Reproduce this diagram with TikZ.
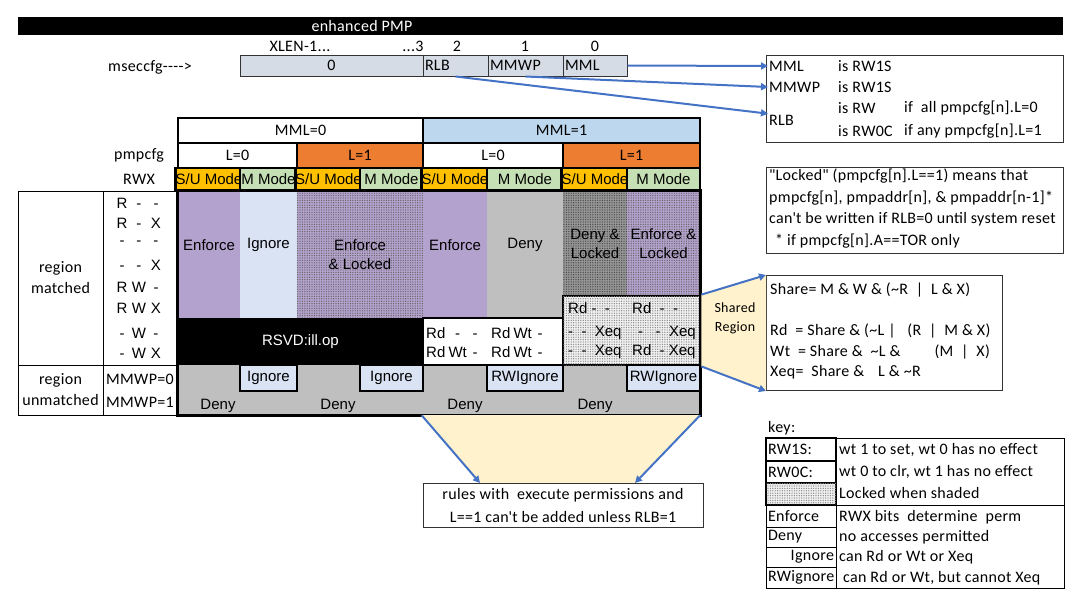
\documentclass[tikz,border=0pt]{standalone}
\usepackage{fontspec}
\setmainfont{Carlito}[LetterSpace=2]
\newfontfamily\arialf{Liberation Sans}
\usetikzlibrary{arrows.meta,positioning,patterns.meta}
\definecolor{purp}{RGB}{180,162,206}
\definecolor{lav}{RGB}{218,227,243}
\definecolor{gry}{RGB}{191,191,191}
\definecolor{dgry}{RGB}{150,150,150}
\definecolor{org}{RGB}{237,125,49}
\definecolor{ylw}{RGB}{255,192,0}
\definecolor{grn}{RGB}{197,224,180}
\definecolor{lblue}{RGB}{189,215,238}
\definecolor{regc}{RGB}{214,220,229}
\definecolor{callc}{RGB}{255,242,204}
\definecolor{arrc}{RGB}{68,114,196}
\newcommand\rwxc[3]{\makebox[17pt]{#1}\makebox[17pt]{#2}\makebox[17pt]{#3}}
\newcommand\permc[3]{\makebox[20pt][l]{#1}\makebox[23pt]{#2}\makebox[12pt]{#3}}

\begin{document}
\begin{tikzpicture}[x=1pt,y=-1pt]
\tikzset{hdr/.style={draw=black, line width=2.8pt, inner sep=0pt, font=\fontsize{16}{18}\selectfont}}
\tikzset{mode/.style={hdr, font=\arialf\fontsize{15}{17}\selectfont}}
\tikzset{body/.style={inner sep=0pt, font=\arialf\fontsize{15}{19}\selectfont, align=center}}
\tikzset{locked/.style={postaction={pattern={Dots[distance=2.4pt,radius=0.7pt]}, pattern color=#1}}}
\tikzset{tab/.style={font=\arialf\fontsize{15}{17}\selectfont, inner sep=1pt}}
\tikzset{txt/.style={font=\fontsize{16}{21}\selectfont, inner sep=1pt}}
\tikzset{note/.style={draw=black!80, line width=1pt, inner sep=0pt}}
\tikzset{keyc/.style={draw=black, line width=1pt, minimum width=70, text width=66, inner sep=2pt, align=left, font=\fontsize{16}{18}\selectfont}}
\tikzset{arr/.style={draw=arrc, line width=2pt, -{Triangle[length=7pt,width=7pt]}}}
\useasboundingbox (0,0) rectangle (1083,606);

% title and mseccfg register
\node[fill=black, minimum width=1045, minimum height=18, inner sep=0pt] (bar) at (540.5,26) {};
\node[txt, text=white] (title) at (362,26) {enhanced PMP};
\node[txt] (bxlen) at (300,46) {XLEN-1...};
\node[txt] (b3) at (413,46) {...3};
\node[txt] (b2) at (457,46) {2};
\node[txt] (b1) at (525,46) {1};
\node[txt] (b0) at (595,46) {0};
\node[txt] (msec) at (150,67) {mseccfg-{}-{}-{}->};
\node[note, fill=regc, minimum width=183, minimum height=21, font=\fontsize{16}{18}\selectfont] (f0) at (331.5,65.5) {0};
\node[note, fill=regc, minimum width=65, minimum height=21, text width=61, align=left, font=\fontsize{16}{18}\selectfont] (rlbf) at (455.5,65.5) {RLB};
\node[note, fill=regc, minimum width=75, minimum height=21, text width=71, align=left, font=\fontsize{16}{18}\selectfont] (mmwpf) at (525.5,65.5) {MMWP};
\node[note, fill=regc, minimum width=64, minimum height=21, text width=60, align=left, font=\fontsize{16}{18}\selectfont] (mmlf) at (595,65.5) {MML};

% register description
\node[note, anchor=north west, minimum width=297, minimum height=87] (regbox) at (766,55) {};
\node[txt, anchor=west] (kmml) at (768,66) {MML};
\node[txt, anchor=west] (kmml2) at (837,66) {is RW1S};
\node[txt, anchor=west] (kmmwp) at (768,87) {MMWP};
\node[txt, anchor=west] (kmmwp2) at (837,87) {is RW1S};
\node[txt, anchor=west] (krlb) at (768,120) {RLB};
\node[txt, anchor=west] (krlb2) at (837,108) {is RW};
\node[txt, anchor=west] (krlb3) at (903,108) {if~ all pmpcfg[n].L=0};
\node[txt, anchor=west] (krlb4) at (837,131) {is RW0C};
\node[txt, anchor=west] (krlb5) at (903,131) {if any pmpcfg[n].L=1};
\draw[arr] (mmlf.east) -- (kmml.west);
\draw[arr] (mmwpf.south) -- (kmmwp.west);
\draw[arr] (rlbf.south) -- (krlb.north west);

\node[note, anchor=north west, minimum width=297, minimum height=86] (lockbox) at (766,167) {};
\node[txt, anchor=north west, align=left, font=\fontsize{16}{21.5}\selectfont] (locktxt) at (768,168) {\textquotedbl Locked\textquotedbl\ (pmpcfg[n].L==1) means that\\pmpcfg[n], pmpaddr[n], \& pmpaddr[n-1]*\\can\textquotesingle t be written if RLB=0 until system reset\\\hspace*{6pt}* if pmpcfg[n].A==TOR only};

% left labels
\node[txt] (pmpl) at (139,155) {pmpcfg};
\node[txt] (rwxl) at (139,179) {RWX};
\node[txt, draw, line width=1pt, minimum width=85, minimum height=174, align=center] (regm) at (60.5,278) {region\\matched};
\node[txt, draw, line width=1pt, minimum width=85, minimum height=50, align=center] (regu) at (60.5,390) {region\\unmatched};
\node[draw, line width=1pt, minimum width=75, minimum height=174] (rwxcol) at (140.5,278) {};
\node[draw, line width=1pt, minimum width=75, minimum height=50] (mmwpcol) at (140.5,390) {};
\node[tab] (p1) at (139,203) {\rwxc{R}{-}{-}};
\node[tab] (p2) at (139,223) {\rwxc{R}{-}{X}};
\node[tab] (p3) at (139,243) {\rwxc{-}{-}{-}};
\node[tab] (p4) at (139,265) {\rwxc{-}{-}{X}};
\node[tab] (p5) at (139,287) {\rwxc{R}{W}{-}};
\node[tab] (p6) at (139,308) {\rwxc{R}{W}{X}};
\node[tab] (p7) at (139,333) {\rwxc{-}{W}{-}};
\node[tab] (p8) at (139,353) {\rwxc{-}{W}{X}};
\node[txt] (mw0) at (140,379) {MMWP=0};
\node[txt] (mw1) at (140,402) {MMWP=1};

% table body
\node[body, fill=purp, minimum width=62, minimum height=127, label={[body,yshift=9.5pt]center:Enforce}] (enf1) at (209,254.5) {};
\node[body, fill=lav, minimum width=57, minimum height=127, label={[body,yshift=9.5pt]center:Ignore}] (ign1) at (268.5,254.5) {};
\node[body, fill=purp, locked=black!60, minimum width=126, minimum height=127, label={[body]center:Enforce\\\& Locked}] (enl1) at (360,254.5) {};
\node[body, fill=purp, minimum width=64, minimum height=127, label={[body,yshift=9.5pt]center:Enforce}] (enf2) at (455,254.5) {};
\node[body, fill=gry, minimum width=76, minimum height=127, label={[body,yshift=9.5pt]center:Deny}] (deny1) at (525,254.5) {};
\node[body, fill=dgry, locked=black!70, minimum width=64, minimum height=105, label={[body]center:Deny \&\\Locked}] (dnl) at (595,243.5) {};
\node[body, fill=purp, locked=black!60, minimum width=73, minimum height=105, label={[body]center:Enforce \&\\Locked}] (enl2) at (663.5,243.5) {};
\node[body, fill=black, text=white, minimum width=245, minimum height=47] (rsvd) at (300.5,341.5) {RSVD:ill.op};
\node[body, fill=gry, minimum width=522, minimum height=50] (unm) at (439,390) {};
\node[body, fill=white, draw=black, line width=2.8pt, minimum width=140, minimum height=47] (wbox) at (493,341.5) {};
\node[body, fill=gray!12, locked=black!45, draw=black, line width=2.8pt, minimum width=137, minimum height=69] (shr) at (631.5,330.5) {};

\node[tab, anchor=west] (w11) at (425,333) {\permc{Rd}{-}{-}};
\node[tab, anchor=west] (w12) at (490,333) {\permc{Rd}{Wt}{-}};
\node[tab, anchor=west] (w21) at (425,352) {\permc{Rd}{Wt}{-}};
\node[tab, anchor=west] (w22) at (490,352) {\permc{Rd}{Wt}{-}};
\node[tab, anchor=west] (s11) at (567,308) {Rd\ -\ \ -};
\node[tab, anchor=west] (s12) at (631,308) {Rd\ \ -\ \ -};
\node[tab, anchor=west] (s21) at (567,333) {-~~-~~Xeq};
\node[tab, anchor=west] (s22) at (637,333) {-~~~-~~Xeq};
\node[tab, anchor=west] (s31) at (567,352) {-~~-~~Xeq};
\node[tab, anchor=west] (s32) at (631,352) {Rd~~-~Xeq};

\node[body, fill=lav, draw=black, line width=2.8pt, minimum width=57, minimum height=26] (ig2) at (268.5,378) {Ignore};
\node[body, fill=lav, draw=black, line width=2.8pt, minimum width=63, minimum height=26] (ig3) at (391.5,378) {Ignore};
\node[body, fill=lav, draw=black, line width=2.8pt, minimum width=76, minimum height=26] (rwi1) at (525,378) {RWIgnore};
\node[body, fill=lav, draw=black, line width=2.8pt, minimum width=73, minimum height=26] (rwi2) at (663.5,378) {RWIgnore};
\node[body] (dn1) at (218,406) {Deny};
\node[body] (dn2) at (338,406) {Deny};
\node[body] (dn3) at (465,406) {Deny};
\node[body] (dn4) at (595,406) {Deny};

% header rows
\node[hdr, fill=white, minimum width=245, minimum height=25] (mml0) at (300.5,130.5) {MML=0};
\node[hdr, fill=lblue, minimum width=277, minimum height=25] (mml1) at (561.5,130.5) {MML=1};
\node[hdr, fill=white, minimum width=119, minimum height=25] (l0a) at (237.5,155.5) {L=0};
\node[hdr, fill=org, minimum width=126, minimum height=25] (l1a) at (360,155.5) {L=1};
\node[hdr, fill=white, minimum width=140, minimum height=25] (l0b) at (493,155.5) {L=0};
\node[hdr, fill=org, minimum width=137, minimum height=25] (l1b) at (631.5,155.5) {L=1};
\node[mode, fill=ylw, minimum width=62, minimum height=23] (su1) at (209,179.5) {S/U Mode};
\node[mode, fill=grn, minimum width=57, minimum height=23] (m1) at (268.5,179.5) {M Mode};
\node[mode, fill=ylw, minimum width=63, minimum height=23] (su2) at (328.5,179.5) {S/U Mode};
\node[mode, fill=grn, minimum width=63, minimum height=23] (m2) at (391.5,179.5) {M Mode};
\node[mode, fill=ylw, minimum width=64, minimum height=23] (su3) at (455,179.5) {S/U Mode};
\node[mode, fill=grn, minimum width=76, minimum height=23] (m3) at (525,179.5) {M Mode};
\node[mode, fill=ylw, minimum width=64, minimum height=23] (su4) at (595,179.5) {S/U Mode};
\node[mode, fill=grn, minimum width=73, minimum height=23] (m4) at (663.5,179.5) {M Mode};
\draw[line width=2.8pt] (enf1.north west) rectangle (unm.south east);

% shared region callout
\node[note, anchor=north west, minimum width=236, minimum height=115] (sharebox) at (766,275) {};
\fill[callc] (shr.north east) -- (sharebox.north west) -- (sharebox.south west) -- (shr.south east) -- cycle;
\draw[arr] (shr.north east) -- (sharebox.north west);
\draw[arr] (shr.south east) -- (sharebox.south west);
\node[txt, align=center, font=\fontsize{14}{19}\selectfont] (shtxt) at (735,318.5) {Shared\\Region};
\node[txt, anchor=north west, align=left, font=\fontsize{16}{20.5}\selectfont] (sharetxt) at (769,282) {Share= M \& W \& (\textasciitilde R~ |~ L \& X)\\[20.5pt]Rd~ = Share \& (\textasciitilde L |~~ (R~ |~ M \& X)\\Wt~ = Share \&~ \textasciitilde L \&\hspace{34pt}(M~ |~ X)\\Xeq=~ Share \&\hspace{14pt}L \& \textasciitilde R};

% rules callout
\coordinate (cbl) at (480,483);
\coordinate (cbr) at (635,483);
\fill[callc] (wbox.west |- unm.south) -- (unm.south east) -- (cbr) -- (cbl) -- cycle;
\draw[arr] (wbox.west |- unm.south) -- (cbl);
\draw[arr] (unm.south east) -- (cbr);
\node[note, fill=white, minimum width=280, minimum height=44, align=center, font=\fontsize{16}{23}\selectfont] (rulebox) at (563,505) {rules with~ execute permissions and\\L==1 can\textquotesingle t be added unless RLB=1};

% key
\node[txt, anchor=west] (keyl) at (767,428) {key:};
\node[draw, line width=1pt, anchor=north west, minimum width=228, minimum height=67] (kup) at (836,438) {};
\node[draw, line width=1pt, anchor=north west, minimum width=298, minimum height=83] (klow) at (766,505) {};
\node[keyc, line width=2.2pt, minimum height=23] (k1) at (801,449.5) {RW1S:};
\node[keyc, line width=2.2pt, minimum height=22] (k2) at (801,472) {RW0C:};
\node[keyc, line width=2.2pt, minimum height=22, fill=gray!12, locked=black!45] (k3) at (801,494) {};
\node[keyc, minimum height=22] (k4) at (801,516) {Enforce};
\node[keyc, minimum height=20] (k5) at (801,537) {Deny};
\node[keyc, minimum height=20, align=right] (k6) at (801,557) {Ignore};
\node[keyc, minimum height=21] (k7) at (801,577.5) {RWignore};
\node[txt, anchor=west] (kt1) at (838,450) {wt 1 to set, wt 0 has no effect};
\node[txt, anchor=west] (kt2) at (838,472) {wt 0 to clr, wt 1 has no effect};
\node[txt, anchor=west] (kt3) at (838,493) {Locked when shaded};
\node[txt, anchor=west] (kt4) at (838,517) {RWX bits~ determine~ perm};
\node[txt, anchor=west] (kt5) at (838,537) {no accesses permitted};
\node[txt, anchor=west] (kt6) at (838,557) {can Rd or Wt or Xeq};
\node[txt, anchor=west] (kt7) at (838,578) {~can Rd or Wt, but cannot Xeq};
\end{tikzpicture}
\end{document}
